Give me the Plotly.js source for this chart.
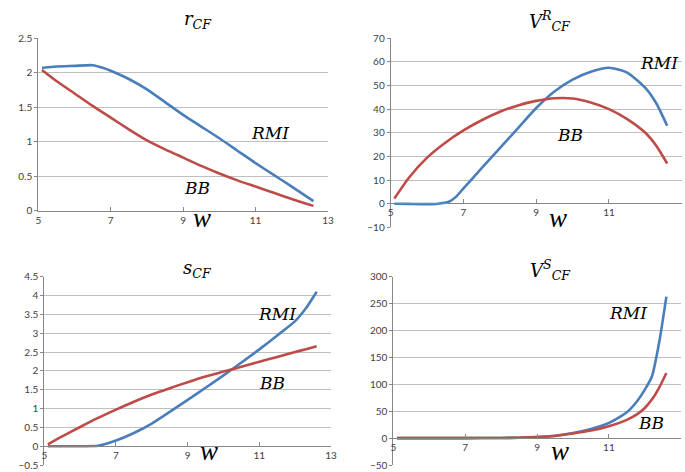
<!DOCTYPE html>
<html>
<head>
<meta charset="utf-8">
<script src="https://cdn.plot.ly/plotly-3.0.1.min.js"></script>
<style>html,body{margin:0;padding:0;background:#fff;}#chart{width:685px;height:472px;}</style>
</head>
<body>
<div id="chart"></div>
<script>
// ---- data ----
var wR = [5.1, 5.5, 6, 6.5, 6.8, 7, 7.5, 8, 8.5, 9, 9.5, 10, 10.5, 11, 11.5, 12, 12.6];
var rRMI = [2.07, 2.09, 2.10, 2.11, 2.07, 2.03, 1.91, 1.76, 1.575, 1.39, 1.22, 1.05, 0.87, 0.69, 0.52, 0.35, 0.14];
var wRB = [5.1, 5.5, 6, 6.5, 7, 7.5, 8, 8.5, 9, 9.5, 10, 10.5, 11, 11.5, 12, 12.6];
var rBB = [2.04, 1.88, 1.70, 1.52, 1.35, 1.18, 1.02, 0.89, 0.77, 0.65, 0.54, 0.44, 0.35, 0.26, 0.17, 0.07];

var wVR = [5.1, 5.5, 6, 6.3, 6.6, 6.8, 7, 7.5, 8, 8.5, 9, 9.5, 10, 10.5, 11, 11.5, 12, 12.3, 12.6];
var vrRMI = [0, -0.1, -0.2, 0, 0.8, 3, 6.5, 15, 23.5, 32, 40.5, 47.5, 52.5, 55.8, 57.5, 55.5, 49, 42.5, 33];
var wVRB = [5.1, 5.5, 6, 6.5, 7, 7.5, 8, 8.5, 9, 9.5, 10, 10.5, 11, 11.5, 12, 12.3, 12.6];
var vrBB = [2.2, 11, 19.5, 25.8, 31, 35.3, 38.9, 41.6, 43.5, 44.6, 44.5, 42.8, 40, 35.8, 30, 24.5, 17];

var wS = [5.1, 5.5, 6, 6.5, 7, 7.5, 8, 8.5, 9, 9.5, 10, 10.5, 11, 11.5, 12, 12.3, 12.6];
var sRMI = [0, 0, 0, 0.01, 0.15, 0.35, 0.6, 0.91, 1.23, 1.55, 1.88, 2.22, 2.57, 2.94, 3.32, 3.66, 4.1];
var sBB = [0.05, 0.26, 0.51, 0.75, 0.97, 1.18, 1.37, 1.54, 1.70, 1.85, 1.98, 2.11, 2.24, 2.37, 2.5, 2.575, 2.65];

var wVS = [5.1, 6, 7, 8, 8.5, 9, 9.5, 10, 10.5, 11, 11.5, 11.8, 12, 12.2, 12.4, 12.6];
var vsRMI = [0, 0, 0, 0.3, 0.8, 2, 4.5, 9.5, 17, 28, 48, 70, 90, 115, 178, 263];
var vsBB = [0, 0, 0, 0.3, 0.8, 2, 4, 8.5, 14, 22, 34, 45, 56, 72, 94, 121];

var xTicks = [5, 7, 9, 11, 13];

// ---- styling ----
var blue = '#4a7ebb', red = '#be4b48';
function tr(x, y, c, xa, ya) {
  return {x: x, y: y, mode: 'lines', type: 'scatter', xaxis: xa, yaxis: ya,
    line: {color: c, width: 2.6, shape: 'spline', smoothing: 0.6}, hoverinfo: 'skip'};
}
var data = [
  tr(wR, rRMI, blue, 'x', 'y'), tr(wRB, rBB, red, 'x', 'y'),
  tr(wVR, vrRMI, blue, 'x2', 'y2'), tr(wVRB, vrBB, red, 'x2', 'y2'),
  tr(wS, sRMI, blue, 'x3', 'y3'), tr(wS, sBB, red, 'x3', 'y3'),
  tr(wVS, vsRMI, blue, 'x4', 'y4'), tr(wVS, vsBB, red, 'x4', 'y4')
];

var tickFont = {family: 'Lato, "Liberation Sans", sans-serif', size: 10, color: '#404040'};
function xa(dom, anchor, pos) {
  var o = {domain: dom, range: [5, 13], tickvals: xTicks, showgrid: false, zeroline: false,
    showline: true, linecolor: '#868686', linewidth: 1, ticks: 'inside', ticklen: 4, tickcolor: '#868686',
    tickfont: tickFont, fixedrange: true};
  if (pos !== undefined) { o.anchor = 'free'; o.position = pos; } else { o.anchor = anchor; }
  return o;
}
function ya(dom, anchor, rng, dt) {
  return {domain: dom, anchor: anchor, range: rng, dtick: dt, tick0: rng[0], showgrid: true, gridcolor: '#bfbfbf',
    gridwidth: 1, zeroline: false, showline: true, linecolor: '#868686', linewidth: 1, ticks: 'outside',
    ticklen: 3, tickcolor: '#868686', tickfont: tickFont, fixedrange: true};
}

var mathFont = {family: '"DejaVu Serif", "Liberation Serif", serif', size: 17, color: '#000'};
var wFont = {family: '"Liberation Serif", "DejaVu Serif", serif', size: 27, color: '#000'};
var titleFont = {family: '"DejaVu Serif", "Liberation Serif", serif', size: 18, color: '#000'};
function ann(text, x, y, f) {
  return {text: text, x: x, y: y, xref: 'paper', yref: 'paper', showarrow: false, font: f,
    xanchor: 'center', yanchor: 'middle'};
}
var annotations = [
  ann('<i>r</i><sub><i>CF</i></sub>', 0.289, 0.958, titleFont),
  ann('<i>V</i><sup><i>R</i></sup><sub><i>CF</i></sub>', 0.803, 0.955, titleFont),
  ann('<i>s</i><sub><i>CF</i></sub>', 0.289, 0.430, titleFont),
  ann('<i>V</i><sup><i>S</i></sup><sub><i>CF</i></sub>', 0.803, 0.428, titleFont),
  ann('<i>RMI</i>', 0.394, 0.718, mathFont),
  ann('<i>BB</i>', 0.2876, 0.6017, mathFont),
  ann('<i>w</i>', 0.295, 0.538, wFont),
  ann('<i>RMI</i>', 0.962, 0.867, mathFont),
  ann('<i>BB</i>', 0.832, 0.714, mathFont),
  ann('<i>w</i>', 0.815, 0.538, wFont),
  ann('<i>RMI</i>', 0.404, 0.334, mathFont),
  ann('<i>BB</i>', 0.397, 0.189, mathFont),
  ann('<i>w</i>', 0.3056, 0.045, wFont),
  ann('<i>RMI</i>', 0.917, 0.336, mathFont),
  ann('<i>BB</i>', 0.951, 0.1045, mathFont),
  ann('<i>w</i>', 0.8175, 0.045, wFont)
];

var layout = {
  width: 685, height: 472, margin: {l: 0, r: 0, t: 0, b: 0},
  paper_bgcolor: '#fff', plot_bgcolor: '#fff', showlegend: false,
  xaxis: xa([0.0559, 0.4788], 'y'),
  yaxis: ya([0.5536, 0.9189], 'x', [0, 2.5], 0.5),
  xaxis2: xa([0.5704, 0.9952], 'y2', 0.5689),
  yaxis2: ya([0.5184, 0.9189], 'x2', [-10, 70], 10),
  xaxis3: xa([0.0647, 0.4832], 'y3', 0.0547),
  yaxis3: ya([0.0148, 0.4138], 'x3', [-0.5, 4.5], 0.5),
  xaxis4: xa([0.5742, 0.9938], 'y4', 0.072),
  yaxis4: ya([0.0148, 0.4138], 'x4', [-50, 300], 50),
  annotations: annotations
};
Plotly.newPlot('chart', data, layout, {displayModeBar: false, staticPlot: true});
</script>
</body>
</html>
